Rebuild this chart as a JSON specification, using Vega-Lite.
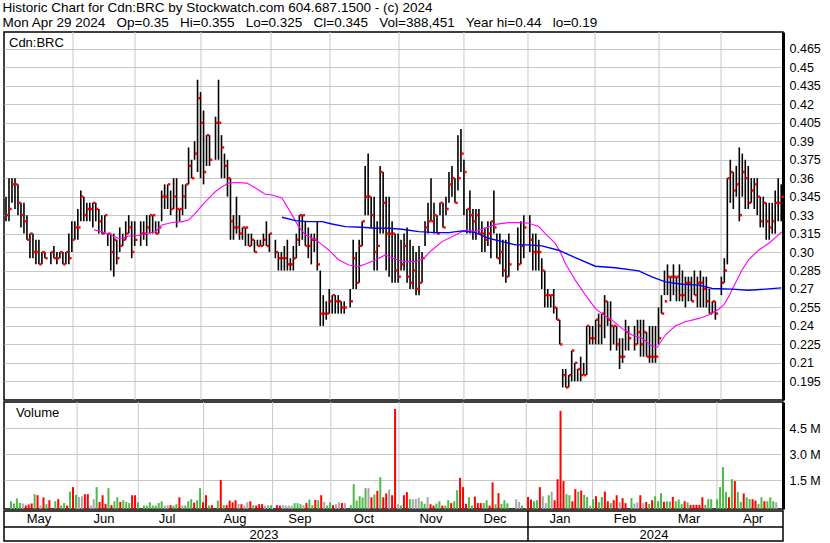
{
"$schema": "https://vega.github.io/schema/vega-lite/v6.json",
"background": "white",
"padding": {"left": 2, "top": 0, "right": 0, "bottom": 0},
"spacing": 2,
"bounds": "flush",
"title": {"text": ["Historic Chart for Cdn:BRC by Stockwatch.com 604.687.1500 - (c) 2024", "Mon Apr 29 2024 \u00a0 Op=0.35 \u00a0 Hi=0.355 \u00a0 Lo=0.325 \u00a0 Cl=0.345 \u00a0 Vol=388,451 \u00a0 Year hi=0.44 \u00a0 lo=0.19"], "anchor": "start", "font": "Liberation Sans", "fontSize": 13.5, "fontWeight": "normal", "lineHeight": 15.5, "offset": 1, "color": "black"},
"datasets": {
"bars": [
{"i":0,"h":0.345,"l":0.325,"c":0.33},{"i":1,"h":0.36,"l":0.325,"c":0.335},{"i":2,"h":0.36,"l":0.34,"c":0.355},{"i":3,"h":0.36,"l":0.335,"c":0.355},{"i":4,"h":0.355,"l":0.33,"c":0.34},{"i":5,"h":0.34,"l":0.32,"c":0.33},{"i":6,"h":0.34,"l":0.315,"c":0.325},{"i":7,"h":0.33,"l":0.31,"c":0.31},{"i":8,"h":0.315,"l":0.295,"c":0.315},{"i":9,"h":0.315,"l":0.295,"c":0.3},{"i":10,"h":0.31,"l":0.29,"c":0.3},{"i":11,"h":0.31,"l":0.29,"c":0.29},{"i":12,"h":0.3,"l":0.29,"c":0.3},{"i":13,"h":0.3,"l":0.295,"c":0.295},
{"i":15,"h":0.3,"l":0.29,"c":0.3},{"i":16,"h":0.305,"l":0.295,"c":0.295},{"i":17,"h":0.3,"l":0.29,"c":0.295},{"i":18,"h":0.3,"l":0.295,"c":0.3},{"i":19,"h":0.3,"l":0.29,"c":0.29},{"i":20,"h":0.3,"l":0.29,"c":0.3},{"i":21,"h":0.315,"l":0.29,"c":0.295},{"i":22,"h":0.325,"l":0.3,"c":0.31},{"i":23,"h":0.325,"l":0.31,"c":0.32},{"i":24,"h":0.335,"l":0.31,"c":0.32},{"i":25,"h":0.35,"l":0.325,"c":0.345},{"i":26,"h":0.345,"l":0.325,"c":0.33},{"i":27,"h":0.34,"l":0.325,"c":0.335},{"i":28,"h":0.34,"l":0.325,"c":0.335},{"i":29,"h":0.34,"l":0.32,"c":0.34},{"i":30,"h":0.34,"l":0.325,"c":0.335},{"i":31,"h":0.335,"l":0.315,"c":0.325},{"i":32,"h":0.33,"l":0.315,"c":0.315},{"i":33,"h":0.33,"l":0.315,"c":0.33},{"i":34,"h":0.315,"l":0.305,"c":0.315},{"i":35,"h":0.315,"l":0.285,"c":0.3},{"i":36,"h":0.315,"l":0.28,"c":0.31},{"i":37,"h":0.31,"l":0.29,"c":0.295},{"i":38,"h":0.32,"l":0.3,"c":0.305},{"i":39,"h":0.315,"l":0.305,"c":0.31},{"i":40,"h":0.325,"l":0.31,"c":0.315},{"i":41,"h":0.33,"l":0.315,"c":0.32},{"i":42,"h":0.325,"l":0.295,"c":0.3},{"i":43,"h":0.325,"l":0.305,"c":0.31},
{"i":45,"h":0.325,"l":0.305,"c":0.315},{"i":46,"h":0.325,"l":0.31,"c":0.315},{"i":47,"h":0.33,"l":0.305,"c":0.32},{"i":48,"h":0.33,"l":0.315,"c":0.33},{"i":49,"h":0.33,"l":0.315,"c":0.33},{"i":50,"h":0.325,"l":0.315,"c":0.315},{"i":51,"h":0.325,"l":0.315,"c":0.32},{"i":52,"h":0.35,"l":0.325,"c":0.345},{"i":53,"h":0.355,"l":0.335,"c":0.345},{"i":54,"h":0.355,"l":0.335,"c":0.355},{"i":55,"h":0.35,"l":0.33,"c":0.335},{"i":56,"h":0.36,"l":0.335,"c":0.345},{"i":57,"h":0.36,"l":0.32,"c":0.335},{"i":58,"h":0.335,"l":0.325,"c":0.335},{"i":59,"h":0.355,"l":0.33,"c":0.345},{"i":60,"h":0.355,"l":0.335,"c":0.355},{"i":61,"h":0.385,"l":0.355,"c":0.37},{"i":62,"h":0.375,"l":0.36,"c":0.36},{"i":63,"h":0.39,"l":0.375,"c":0.38},{"i":64,"h":0.44,"l":0.365,"c":0.425},{"i":65,"h":0.43,"l":0.36,"c":0.405},{"i":66,"h":0.415,"l":0.355,"c":0.365},{"i":67,"h":0.395,"l":0.37,"c":0.395},{"i":68,"h":0.395,"l":0.37,"c":0.375},
{"i":70,"h":0.41,"l":0.375,"c":0.405},{"i":71,"h":0.44,"l":0.375,"c":0.405},{"i":72,"h":0.395,"l":0.36,"c":0.385},{"i":73,"h":0.38,"l":0.36,"c":0.37},{"i":74,"h":0.375,"l":0.345,"c":0.36},{"i":75,"h":0.36,"l":0.31,"c":0.325},{"i":76,"h":0.33,"l":0.31,"c":0.32},{"i":77,"h":0.345,"l":0.315,"c":0.32},{"i":78,"h":0.33,"l":0.31,"c":0.315},{"i":79,"h":0.32,"l":0.31,"c":0.32},{"i":80,"h":0.32,"l":0.305,"c":0.32},{"i":81,"h":0.315,"l":0.305,"c":0.305},{"i":82,"h":0.315,"l":0.305,"c":0.31},{"i":83,"h":0.31,"l":0.3,"c":0.3},{"i":84,"h":0.31,"l":0.305,"c":0.305},{"i":85,"h":0.31,"l":0.305,"c":0.305},{"i":86,"h":0.315,"l":0.305,"c":0.31},{"i":87,"h":0.325,"l":0.305,"c":0.305},{"i":88,"h":0.315,"l":0.3,"c":0.315},
{"i":90,"h":0.31,"l":0.295,"c":0.3},{"i":91,"h":0.3,"l":0.285,"c":0.295},{"i":92,"h":0.3,"l":0.285,"c":0.295},{"i":93,"h":0.305,"l":0.285,"c":0.295},{"i":94,"h":0.31,"l":0.285,"c":0.29},{"i":95,"h":0.295,"l":0.285,"c":0.29},{"i":96,"h":0.305,"l":0.285,"c":0.295},{"i":97,"h":0.315,"l":0.295,"c":0.31},{"i":98,"h":0.33,"l":0.305,"c":0.33},{"i":99,"h":0.33,"l":0.31,"c":0.33},{"i":100,"h":0.325,"l":0.305,"c":0.305},{"i":101,"h":0.32,"l":0.295,"c":0.305},{"i":102,"h":0.315,"l":0.29,"c":0.31},{"i":103,"h":0.315,"l":0.3,"c":0.31},{"i":104,"h":0.325,"l":0.285,"c":0.29},{"i":105,"h":0.285,"l":0.24,"c":0.25},{"i":106,"h":0.265,"l":0.24,"c":0.25},{"i":107,"h":0.26,"l":0.245,"c":0.25},{"i":108,"h":0.27,"l":0.25,"c":0.26},{"i":109,"h":0.265,"l":0.25,"c":0.265},{"i":110,"h":0.265,"l":0.25,"c":0.26},{"i":111,"h":0.265,"l":0.25,"c":0.26},{"i":112,"h":0.26,"l":0.25,"c":0.255},{"i":113,"h":0.26,"l":0.25,"c":0.255},
{"i":115,"h":0.27,"l":0.255,"c":0.26},{"i":116,"h":0.31,"l":0.27,"c":0.295},{"i":117,"h":0.3,"l":0.27,"c":0.275},{"i":118,"h":0.31,"l":0.275,"c":0.305},{"i":119,"h":0.325,"l":0.305,"c":0.325},{"i":120,"h":0.37,"l":0.33,"c":0.345},{"i":121,"h":0.38,"l":0.33,"c":0.345},{"i":122,"h":0.345,"l":0.32,"c":0.33},{"i":123,"h":0.345,"l":0.285,"c":0.3},{"i":124,"h":0.325,"l":0.285,"c":0.305},{"i":125,"h":0.37,"l":0.315,"c":0.365},{"i":126,"h":0.365,"l":0.315,"c":0.34},{"i":127,"h":0.345,"l":0.285,"c":0.315},{"i":128,"h":0.345,"l":0.28,"c":0.315},{"i":129,"h":0.325,"l":0.275,"c":0.315},{"i":130,"h":0.315,"l":0.275,"c":0.285},{"i":131,"h":0.315,"l":0.275,"c":0.28},{"i":132,"h":0.31,"l":0.285,"c":0.29},{"i":133,"h":0.315,"l":0.285,"c":0.305},{"i":134,"h":0.32,"l":0.275,"c":0.28},{"i":135,"h":0.31,"l":0.27,"c":0.275},{"i":136,"h":0.305,"l":0.27,"c":0.285},{"i":137,"h":0.3,"l":0.265,"c":0.27},{"i":138,"h":0.305,"l":0.265,"c":0.275},{"i":139,"h":0.3,"l":0.275,"c":0.295},{"i":140,"h":0.325,"l":0.305,"c":0.32},{"i":141,"h":0.34,"l":0.315,"c":0.325},{"i":142,"h":0.36,"l":0.325,"c":0.325},{"i":143,"h":0.34,"l":0.315,"c":0.33},{"i":144,"h":0.33,"l":0.315,"c":0.315},{"i":145,"h":0.34,"l":0.33,"c":0.34},{"i":146,"h":0.34,"l":0.32,"c":0.32},{"i":147,"h":0.345,"l":0.33,"c":0.335},{"i":148,"h":0.365,"l":0.34,"c":0.355},{"i":149,"h":0.37,"l":0.345,"c":0.36},{"i":150,"h":0.36,"l":0.34,"c":0.34},{"i":151,"h":0.395,"l":0.35,"c":0.36},{"i":152,"h":0.4,"l":0.365,"c":0.38},
{"i":153,"h":0.375,"l":0.33,"c":0.365},{"i":154,"h":0.335,"l":0.315,"c":0.335},{"i":155,"h":0.35,"l":0.315,"c":0.33},{"i":156,"h":0.335,"l":0.31,"c":0.325},{"i":157,"h":0.335,"l":0.31,"c":0.33},{"i":158,"h":0.335,"l":0.315,"c":0.315},{"i":159,"h":0.325,"l":0.3,"c":0.315},{"i":160,"h":0.32,"l":0.3,"c":0.31},{"i":161,"h":0.325,"l":0.305,"c":0.315},{"i":162,"h":0.325,"l":0.295,"c":0.325},{"i":163,"h":0.35,"l":0.315,"c":0.32},{"i":164,"h":0.315,"l":0.295,"c":0.295},{"i":165,"h":0.315,"l":0.29,"c":0.3},{"i":166,"h":0.31,"l":0.28,"c":0.285},{"i":167,"h":0.31,"l":0.275,"c":0.28},{"i":168,"h":0.315,"l":0.28,"c":0.29},
{"i":171,"h":0.32,"l":0.285,"c":0.29},{"i":172,"h":0.325,"l":0.29,"c":0.305},{"i":173,"h":0.33,"l":0.295,"c":0.32},
{"i":175,"h":0.33,"l":0.3,"c":0.31},{"i":176,"h":0.315,"l":0.285,"c":0.3},{"i":177,"h":0.315,"l":0.285,"c":0.3},{"i":178,"h":0.31,"l":0.285,"c":0.3},{"i":179,"h":0.295,"l":0.27,"c":0.285},{"i":180,"h":0.285,"l":0.255,"c":0.265},{"i":181,"h":0.27,"l":0.255,"c":0.265},{"i":182,"h":0.265,"l":0.255,"c":0.265},{"i":183,"h":0.27,"l":0.25,"c":0.255},{"i":184,"h":0.255,"l":0.245,"c":0.245},{"i":185,"h":0.245,"l":0.225,"c":0.225},{"i":186,"h":0.205,"l":0.19,"c":0.2},{"i":187,"h":0.205,"l":0.19,"c":0.19},{"i":188,"h":0.2,"l":0.19,"c":0.2},{"i":189,"h":0.22,"l":0.195,"c":0.22},{"i":190,"h":0.21,"l":0.195,"c":0.21},{"i":191,"h":0.205,"l":0.195,"c":0.205},{"i":192,"h":0.215,"l":0.195,"c":0.2},{"i":193,"h":0.21,"l":0.2,"c":0.2},{"i":194,"h":0.24,"l":0.2,"c":0.24},{"i":195,"h":0.24,"l":0.225,"c":0.23},{"i":196,"h":0.24,"l":0.225,"c":0.23},
{"i":197,"h":0.245,"l":0.225,"c":0.245},{"i":198,"h":0.25,"l":0.225,"c":0.24},{"i":199,"h":0.25,"l":0.225,"c":0.25},{"i":200,"h":0.265,"l":0.23,"c":0.26},{"i":201,"h":0.26,"l":0.24,"c":0.245},{"i":202,"h":0.26,"l":0.22,"c":0.24},{"i":203,"h":0.24,"l":0.225,"c":0.24},{"i":204,"h":0.24,"l":0.22,"c":0.225},{"i":205,"h":0.23,"l":0.205,"c":0.215},{"i":206,"h":0.23,"l":0.21,"c":0.215},{"i":207,"h":0.245,"l":0.22,"c":0.235},{"i":208,"h":0.24,"l":0.22,"c":0.23},
{"i":210,"h":0.24,"l":0.22,"c":0.225},{"i":211,"h":0.245,"l":0.225,"c":0.235},{"i":212,"h":0.245,"l":0.215,"c":0.225},{"i":213,"h":0.245,"l":0.215,"c":0.235},{"i":214,"h":0.235,"l":0.215,"c":0.215},{"i":215,"h":0.24,"l":0.21,"c":0.215},{"i":216,"h":0.24,"l":0.21,"c":0.215},{"i":217,"h":0.24,"l":0.21,"c":0.215},
{"i":218,"h":0.255,"l":0.225,"c":0.23},{"i":219,"h":0.265,"l":0.25,"c":0.25},{"i":220,"h":0.285,"l":0.265,"c":0.26},{"i":221,"h":0.29,"l":0.265,"c":0.28},{"i":222,"h":0.28,"l":0.26,"c":0.28},{"i":223,"h":0.29,"l":0.265,"c":0.28},{"i":224,"h":0.28,"l":0.26,"c":0.28},{"i":225,"h":0.29,"l":0.26,"c":0.265},{"i":226,"h":0.285,"l":0.26,"c":0.265},{"i":227,"h":0.28,"l":0.255,"c":0.275},{"i":228,"h":0.28,"l":0.26,"c":0.275},{"i":229,"h":0.28,"l":0.26,"c":0.26},{"i":230,"h":0.285,"l":0.265,"c":0.265},{"i":231,"h":0.28,"l":0.255,"c":0.275},{"i":232,"h":0.285,"l":0.255,"c":0.275},{"i":233,"h":0.28,"l":0.255,"c":0.27},{"i":234,"h":0.28,"l":0.255,"c":0.26},{"i":235,"h":0.27,"l":0.25,"c":0.25},{"i":236,"h":0.26,"l":0.25,"c":0.26},{"i":237,"h":0.26,"l":0.245,"c":0.25},
{"i":239,"h":0.28,"l":0.265,"c":0.275},{"i":240,"h":0.295,"l":0.275,"c":0.285},{"i":241,"h":0.36,"l":0.29,"c":0.36},{"i":242,"h":0.375,"l":0.34,"c":0.365},{"i":243,"h":0.365,"l":0.335,"c":0.35},{"i":244,"h":0.37,"l":0.345,"c":0.355},{"i":245,"h":0.385,"l":0.325,"c":0.33},{"i":246,"h":0.38,"l":0.345,"c":0.365},{"i":247,"h":0.375,"l":0.335,"c":0.36},{"i":248,"h":0.37,"l":0.335,"c":0.34},{"i":249,"h":0.36,"l":0.34,"c":0.35},{"i":250,"h":0.36,"l":0.335,"c":0.355},{"i":251,"h":0.36,"l":0.33,"c":0.345},{"i":252,"h":0.345,"l":0.32,"c":0.325},{"i":253,"h":0.345,"l":0.32,"c":0.34},{"i":254,"h":0.34,"l":0.31,"c":0.325},{"i":255,"h":0.34,"l":0.31,"c":0.32},{"i":256,"h":0.34,"l":0.315,"c":0.325},{"i":257,"h":0.35,"l":0.315,"c":0.34},{"i":258,"h":0.36,"l":0.325,"c":0.34},{"i":259,"h":0.355,"l":0.325,"c":0.345}
],
"vol": [
{"i":0,"v":0.27,"d":"u"},{"i":1,"v":0.14,"d":"u"},{"i":2,"v":0.43,"d":"u"},{"i":3,"v":0.17,"d":"u"},{"i":4,"v":0.14,"d":"f"},{"i":5,"v":0.02,"d":"d"},{"i":6,"v":0.08,"d":"d"},{"i":7,"v":0.14,"d":"d"},{"i":8,"v":0.68,"d":"u"},{"i":9,"v":0.62,"d":"d"},{"i":10,"v":0.02,"d":"f"},{"i":11,"v":0.5,"d":"d"},{"i":12,"v":0.1,"d":"u"},{"i":13,"v":0.33,"d":"d"},
{"i":15,"v":0.27,"d":"u"},{"i":16,"v":0.39,"d":"d"},{"i":17,"v":0.02,"d":"u"},{"i":18,"v":0.16,"d":"u"},{"i":19,"v":0.02,"d":"d"},{"i":20,"v":0.83,"d":"u"},{"i":21,"v":1.09,"d":"d"},{"i":22,"v":0.64,"d":"u"},{"i":23,"v":0.52,"d":"f"},{"i":24,"v":0.56,"d":"f"},{"i":25,"v":0.68,"d":"d"},{"i":26,"v":0.68,"d":"d"},{"i":27,"v":0.02,"d":"f"},{"i":28,"v":0.39,"d":"f"},{"i":29,"v":1.09,"d":"u"},{"i":30,"v":0.23,"d":"d"},{"i":31,"v":0.62,"d":"d"},{"i":32,"v":0.12,"d":"d"},{"i":33,"v":1.03,"d":"u"},{"i":34,"v":0.04,"d":"d"},{"i":35,"v":0.27,"d":"u"},{"i":36,"v":0.5,"d":"u"},{"i":37,"v":0.23,"d":"d"},{"i":38,"v":0.33,"d":"u"},{"i":39,"v":0.23,"d":"u"},{"i":40,"v":0.17,"d":"u"},{"i":41,"v":0.62,"d":"d"},{"i":42,"v":0.62,"d":"d"},{"i":43,"v":0.21,"d":"u"},
{"i":45,"v":0.02,"d":"u"},{"i":46,"v":0.02,"d":"u"},{"i":47,"v":0.21,"d":"u"},{"i":48,"v":0.02,"d":"u"},{"i":49,"v":0.02,"d":"u"},{"i":50,"v":0.17,"d":"u"},{"i":51,"v":0.27,"d":"u"},{"i":52,"v":0.02,"d":"f"},{"i":53,"v":0.02,"d":"f"},{"i":54,"v":0.04,"d":"d"},{"i":55,"v":0.02,"d":"u"},{"i":56,"v":0.1,"d":"u"},{"i":57,"v":0.5,"d":"d"},{"i":58,"v":0.02,"d":"f"},{"i":59,"v":0.02,"d":"u"},{"i":60,"v":0.27,"d":"u"},{"i":61,"v":0.39,"d":"u"},{"i":62,"v":0.19,"d":"d"},{"i":63,"v":0.33,"d":"u"},{"i":64,"v":1.03,"d":"u"},{"i":65,"v":0.21,"d":"d"},{"i":66,"v":0.62,"d":"d"},{"i":67,"v":0.02,"d":"u"},{"i":68,"v":0.04,"d":"d"},
{"i":70,"v":0.31,"d":"u"},{"i":71,"v":1.5,"d":"d"},{"i":72,"v":0.04,"d":"u"},{"i":73,"v":0.04,"d":"d"},{"i":74,"v":0.31,"d":"d"},{"i":75,"v":0.21,"d":"d"},{"i":76,"v":0.33,"d":"d"},{"i":77,"v":0.12,"d":"f"},{"i":78,"v":0.1,"d":"d"},{"i":79,"v":0.02,"d":"f"},{"i":80,"v":0.21,"d":"f"},{"i":81,"v":0.27,"d":"d"},{"i":82,"v":0.04,"d":"u"},{"i":83,"v":0.02,"d":"d"},{"i":84,"v":0.1,"d":"d"},{"i":85,"v":0.1,"d":"d"},{"i":86,"v":0.02,"d":"f"},{"i":87,"v":0.04,"d":"f"},{"i":88,"v":0.04,"d":"u"},
{"i":90,"v":0.04,"d":"d"},{"i":91,"v":0.02,"d":"d"},{"i":92,"v":0.04,"d":"f"},{"i":93,"v":0.02,"d":"f"},{"i":94,"v":0.02,"d":"f"},{"i":95,"v":0.02,"d":"f"},{"i":96,"v":0.16,"d":"u"},{"i":97,"v":0.16,"d":"u"},{"i":98,"v":0.1,"d":"u"},{"i":99,"v":0.04,"d":"f"},{"i":100,"v":0.17,"d":"d"},{"i":101,"v":0.37,"d":"u"},{"i":102,"v":0.04,"d":"u"},{"i":103,"v":0.35,"d":"d"},{"i":104,"v":0.33,"d":"u"},{"i":105,"v":0.62,"d":"d"},{"i":106,"v":0.23,"d":"f"},{"i":107,"v":0.02,"d":"u"},{"i":108,"v":0.21,"d":"u"},{"i":109,"v":0.04,"d":"d"},{"i":110,"v":0.1,"d":"f"},{"i":111,"v":0.21,"d":"f"},{"i":112,"v":0.17,"d":"d"},{"i":113,"v":0.16,"d":"f"},
{"i":115,"v":0.04,"d":"u"},{"i":116,"v":1.26,"d":"u"},{"i":117,"v":0.31,"d":"u"},{"i":118,"v":0.56,"d":"u"},{"i":119,"v":0.49,"d":"u"},{"i":120,"v":1.03,"d":"u"},{"i":121,"v":1.03,"d":"f"},{"i":122,"v":0.5,"d":"d"},{"i":123,"v":0.66,"d":"u"},{"i":124,"v":0.87,"d":"d"},{"i":125,"v":1.67,"d":"u"},{"i":126,"v":0.5,"d":"d"},{"i":127,"v":0.72,"d":"d"},{"i":128,"v":0.95,"d":"f"},{"i":129,"v":0.62,"d":"d"},{"i":130,"v":5.63,"d":"d"},{"i":131,"v":0.1,"d":"f"},{"i":132,"v":0.02,"d":"u"},{"i":133,"v":0.62,"d":"d"},{"i":134,"v":0.8,"d":"d"},{"i":135,"v":0.39,"d":"u"},{"i":136,"v":0.39,"d":"f"},{"i":137,"v":0.39,"d":"f"},{"i":138,"v":0.47,"d":"f"},{"i":139,"v":0.27,"d":"u"},{"i":140,"v":0.12,"d":"u"},{"i":141,"v":0.5,"d":"f"},{"i":142,"v":0.1,"d":"d"},{"i":143,"v":0.02,"d":"d"},{"i":144,"v":0.14,"d":"u"},{"i":145,"v":0.27,"d":"u"},{"i":146,"v":0.02,"d":"d"},{"i":147,"v":0.02,"d":"u"},{"i":148,"v":0.33,"d":"u"},{"i":149,"v":0.16,"d":"d"},{"i":150,"v":0.27,"d":"u"},{"i":151,"v":0.91,"d":"u"},{"i":152,"v":1.63,"d":"d"},{"i":153,"v":1.09,"d":"d"},{"i":154,"v":0.12,"d":"d"},{"i":155,"v":0.5,"d":"u"},{"i":156,"v":0.02,"d":"u"},{"i":157,"v":0.54,"d":"d"},{"i":158,"v":0.17,"d":"d"},{"i":159,"v":0.16,"d":"d"},{"i":160,"v":0.17,"d":"u"},{"i":161,"v":0.33,"d":"u"},{"i":162,"v":0.02,"d":"d"},{"i":163,"v":1.36,"d":"d"},{"i":164,"v":0.1,"d":"u"},{"i":165,"v":0.74,"d":"d"},{"i":166,"v":0.12,"d":"u"},{"i":167,"v":0.33,"d":"u"},{"i":168,"v":0.15,"d":"u"},
{"i":171,"v":0.39,"d":"f"},{"i":172,"v":0.23,"d":"f"},{"i":173,"v":0.02,"d":"u"},
{"i":175,"v":0.52,"d":"d"},{"i":176,"v":0.37,"d":"d"},{"i":177,"v":0.27,"d":"u"},{"i":178,"v":0.33,"d":"u"},{"i":179,"v":1.09,"d":"d"},{"i":180,"v":0.56,"d":"f"},{"i":181,"v":0.16,"d":"f"},{"i":182,"v":0.62,"d":"u"},{"i":183,"v":0.83,"d":"f"},{"i":184,"v":0.33,"d":"d"},{"i":185,"v":1.55,"d":"d"},{"i":186,"v":5.51,"d":"d"},{"i":187,"v":1.44,"d":"d"},{"i":188,"v":0.68,"d":"u"},{"i":189,"v":0.62,"d":"u"},{"i":190,"v":0.27,"d":"d"},{"i":191,"v":0.97,"d":"d"},{"i":192,"v":0.83,"d":"u"},{"i":193,"v":0.89,"d":"d"},{"i":194,"v":0.64,"d":"u"},{"i":195,"v":0.52,"d":"u"},{"i":196,"v":0.02,"d":"f"},{"i":197,"v":0.39,"d":"u"},{"i":198,"v":0.56,"d":"d"},{"i":199,"v":0.21,"d":"u"},{"i":200,"v":0.52,"d":"u"},{"i":201,"v":0.83,"d":"d"},{"i":202,"v":0.27,"d":"d"},{"i":203,"v":0.16,"d":"u"},{"i":204,"v":0.33,"d":"d"},{"i":205,"v":0.62,"d":"d"},{"i":206,"v":0.21,"d":"f"},{"i":207,"v":0.45,"d":"d"},{"i":208,"v":0.16,"d":"d"},
{"i":210,"v":0.45,"d":"u"},{"i":211,"v":0.14,"d":"f"},{"i":212,"v":0.21,"d":"f"},{"i":213,"v":0.62,"d":"d"},{"i":214,"v":0.16,"d":"f"},{"i":215,"v":0.23,"d":"d"},{"i":216,"v":0.12,"d":"u"},{"i":217,"v":0.33,"d":"d"},{"i":218,"v":0.56,"d":"u"},{"i":219,"v":0.27,"d":"u"},{"i":220,"v":0.74,"d":"u"},{"i":221,"v":0.23,"d":"d"},{"i":222,"v":0.27,"d":"u"},{"i":223,"v":0.25,"d":"u"},{"i":224,"v":0.52,"d":"d"},{"i":225,"v":0.27,"d":"u"},{"i":226,"v":0.37,"d":"u"},{"i":227,"v":0.1,"d":"u"},{"i":228,"v":0.27,"d":"d"},{"i":229,"v":0.21,"d":"u"},{"i":230,"v":0.06,"d":"d"},{"i":231,"v":0.06,"d":"d"},{"i":232,"v":0.06,"d":"d"},{"i":233,"v":0.06,"d":"d"},{"i":234,"v":0.5,"d":"d"},{"i":235,"v":0.06,"d":"u"},{"i":236,"v":0.39,"d":"u"},{"i":237,"v":0.39,"d":"u"},
{"i":239,"v":0.39,"d":"u"},{"i":240,"v":1.09,"d":"u"},{"i":241,"v":2.25,"d":"u"},{"i":242,"v":0.8,"d":"u"},{"i":243,"v":0.5,"d":"d"},{"i":244,"v":1.55,"d":"u"},{"i":245,"v":1.44,"d":"d"},{"i":246,"v":0.8,"d":"u"},{"i":247,"v":0.23,"d":"u"},{"i":248,"v":0.72,"d":"d"},{"i":249,"v":0.5,"d":"u"},{"i":250,"v":0.39,"d":"u"},{"i":251,"v":0.39,"d":"d"},{"i":252,"v":0.31,"d":"d"},{"i":253,"v":0.12,"d":"u"},{"i":254,"v":0.5,"d":"u"},{"i":255,"v":0.27,"d":"d"},{"i":256,"v":0.27,"d":"u"},{"i":257,"v":0.5,"d":"u"},{"i":258,"v":0.27,"d":"u"},{"i":259,"v":0.21,"d":"f"}
],
"ma1": [
{"i":29.4,"m":0.318},{"i":32.1,"m":0.3165},{"i":35.4,"m":0.3135},{"i":37.7,"m":0.311},{"i":39.3,"m":0.3115},{"i":41,"m":0.313},{"i":44.3,"m":0.3135},{"i":45.4,"m":0.3145},{"i":49.9,"m":0.3165},{"i":52.1,"m":0.322},{"i":55.5,"m":0.324},{"i":58.8,"m":0.3247},{"i":61,"m":0.326},{"i":63.2,"m":0.3315},{"i":65.5,"m":0.338},{"i":67.7,"m":0.3437},{"i":69.9,"m":0.349},{"i":72.2,"m":0.353},{"i":74.4,"m":0.356},{"i":76.6,"m":0.3565},{"i":80.5,"m":0.356},{"i":83.3,"m":0.352},{"i":86.6,"m":0.347},{"i":88.9,"m":0.3464},{"i":92.2,"m":0.344},{"i":95.6,"m":0.33},{"i":97.8,"m":0.3207},{"i":100,"m":0.314},{"i":103.4,"m":0.31},{"i":105.6,"m":0.306},{"i":107.8,"m":0.3017},{"i":111.2,"m":0.2936},{"i":114.5,"m":0.2895},{"i":117.8,"m":0.2882},{"i":120.1,"m":0.2903},{"i":123.4,"m":0.2936},{"i":126.7,"m":0.2977},{"i":130.1,"m":0.2941},{"i":133.4,"m":0.2922},{"i":136.8,"m":0.2922},{"i":139.6,"m":0.295},{"i":142.3,"m":0.3017},{"i":145.7,"m":0.3085},{"i":149,"m":0.3125},{"i":152.4,"m":0.3166},{"i":154,"m":0.318},{"i":156.8,"m":0.3166},{"i":160.1,"m":0.3193},{"i":163.5,"m":0.3225},{"i":167.9,"m":0.3239},{"i":171.3,"m":0.3239},{"i":174.6,"m":0.3234},{"i":178,"m":0.3207},{"i":180.2,"m":0.315},{"i":183.5,"m":0.307},{"i":185.2,"m":0.3},{"i":186.9,"m":0.2907},{"i":190.2,"m":0.2772},{"i":193.6,"m":0.265},{"i":196.9,"m":0.2542},{"i":199.7,"m":0.2488},{"i":202.5,"m":0.2447},{"i":205.8,"m":0.238},{"i":209.2,"m":0.2326},{"i":212.5,"m":0.2299},{"i":215.8,"m":0.2236},{"i":217.5,"m":0.2225},{"i":220.3,"m":0.2326},{"i":223.6,"m":0.2399},{"i":227,"m":0.2434},{"i":231.5,"m":0.2461},{"i":234.8,"m":0.2488},{"i":238.1,"m":0.2535},{"i":239.8,"m":0.257},{"i":241.5,"m":0.264},{"i":243.1,"m":0.272},{"i":245.9,"m":0.2855},{"i":248.1,"m":0.2936},{"i":251.5,"m":0.3017},{"i":254.8,"m":0.307},{"i":259.3,"m":0.3166}
],
"ma2": [
{"i":92.2,"m":0.3283},{"i":96.7,"m":0.3255},{"i":101.1,"m":0.3247},{"i":105.6,"m":0.3247},{"i":108.9,"m":0.3228},{"i":113.4,"m":0.3207},{"i":118.9,"m":0.3201},{"i":123.4,"m":0.3193},{"i":127.9,"m":0.3193},{"i":132.3,"m":0.3185},{"i":137.9,"m":0.3166},{"i":143.4,"m":0.3158},{"i":147.9,"m":0.3158},{"i":152.4,"m":0.3172},{"i":156.8,"m":0.3158},{"i":161.3,"m":0.3112},{"i":165.7,"m":0.3085},{"i":170.2,"m":0.3058},{"i":174.6,"m":0.3058},{"i":179,"m":0.305},{"i":184.6,"m":0.3015},{"i":190.2,"m":0.2955},{"i":196.9,"m":0.2885},{"i":203.6,"m":0.2872},{"i":211.4,"m":0.2847},{"i":215.8,"m":0.2799},{"i":220.3,"m":0.2758},{"i":225.9,"m":0.2739},{"i":231.5,"m":0.2731},{"i":235.9,"m":0.2704},{"i":242.6,"m":0.2699},{"i":248.1,"m":0.269},{"i":253.7,"m":0.2699},{"i":259,"m":0.2709}
],
"months": [{"i":22.39},{"i":43.1},{"i":65.15},{"i":88.54},{"i":108.25},{"i":131.3},{"i":153.0},{"i":174.4},{"i":196.8},{"i":218.2},{"i":238.9}],
"labels": [
{"i":11.03,"r":1.47,"t":"May"},{"i":32.74,"r":1.47,"t":"Jun"},{"i":53.8,"r":1.47,"t":"Jul"},{"i":76.5,"r":1.47,"t":"Aug"},{"i":98.2,"r":1.47,"t":"Sep"},{"i":119.6,"r":1.47,"t":"Oct"},{"i":142.0,"r":1.47,"t":"Nov"},{"i":163.4,"r":1.47,"t":"Dec"},{"i":185.1,"r":1.47,"t":"Jan"},{"i":206.8,"r":1.47,"t":"Feb"},{"i":228.2,"r":1.47,"t":"Mar"},{"i":249.6,"r":1.47,"t":"Apr"},
{"i":86.2,"r":0.43,"t":"2023"},{"i":216.5,"r":0.43,"t":"2024"}
]
},
"vconcat": [
{
"width": 779, "height": 368,
"encoding": {"x": {"field": "i", "type": "quantitative", "scale": {"domain": [-0.668, 259.6], "nice": false, "zero": false}, "axis": null}},
"layer": [
{"data": {"name": "months"}, "mark": {"type": "rule", "color": "#c8c8c8", "strokeWidth": 1}, "encoding": {}},
{"data": {"name": "bars"}, "mark": {"type": "rule", "color": "black", "strokeWidth": 1.6},
 "encoding": {"y": {"field": "l", "type": "quantitative", "scale": {"domain": [0.1798, 0.4788], "nice": false, "zero": false},
   "axis": {"orient": "right", "title": null, "values": [0.195,0.21,0.225,0.24,0.255,0.27,0.285,0.3,0.315,0.33,0.345,0.36,0.375,0.39,0.405,0.42,0.435,0.45,0.465], "tickCount": 40, "labelExpr": "format(datum.value, round(datum.value * 1000) % 10 == 0 ? '.2f' : '.3f')", "labelOverlap": false, "labelSeparation": 0, "grid": true, "gridColor": "#c8c8c8", "ticks": false, "domainColor": "black", "domainWidth": 3, "labelPadding": 6, "labelFont": "Liberation Sans", "labelFontSize": 12.5, "labelColor": "black"}},
  "y2": {"field": "h"}}},
{"data": {"name": "bars"}, "mark": {"type": "point", "shape": "square", "filled": true, "color": "#ff0000", "size": 6, "opacity": 1, "xOffset": 1.5},
 "encoding": {"y": {"field": "c", "type": "quantitative"}}},
{"data": {"name": "ma1"}, "mark": {"type": "line", "color": "#ff00ff", "strokeWidth": 1.1}, "encoding": {"y": {"field": "m", "type": "quantitative"}}},
{"data": {"name": "ma2"}, "mark": {"type": "line", "color": "#0000ff", "strokeWidth": 1.4}, "encoding": {"y": {"field": "m", "type": "quantitative"}}},
{"data": {"values": [{"i": 1.0, "y": 0.4699, "t": "Cdn:BRC"}]}, "mark": {"type": "text", "align": "left", "baseline": "middle", "font": "Liberation Sans", "fontSize": 13, "color": "black"},
 "encoding": {"y": {"field": "y", "type": "quantitative"}, "text": {"field": "t"}}}
]
},
{
"width": 779, "height": 107,
"encoding": {"x": {"field": "i", "type": "quantitative", "scale": {"domain": [-0.668, 259.6], "nice": false, "zero": false}, "axis": null}},
"layer": [
{"data": {"name": "months"}, "mark": {"type": "rule", "color": "#c8c8c8", "strokeWidth": 1}, "encoding": {}},
{"data": {"name": "vol"}, "mark": {"type": "bar", "width": 2},
 "encoding": {"y": {"field": "v", "type": "quantitative", "scale": {"domain": [-0.18, 6.03], "nice": false, "zero": false},
   "axis": {"orient": "right", "title": null, "values": [1.5, 3, 4.5], "tickCount": 10, "labelExpr": "format(datum.value,'.1f') + ' M'", "labelOverlap": false, "grid": true, "gridColor": "#c8c8c8", "ticks": false, "domainColor": "black", "domainWidth": 3, "labelPadding": 6, "labelFont": "Liberation Sans", "labelFontSize": 12.5, "labelColor": "black"}},
  "y2": {"datum": -0.18},
  "color": {"field": "d", "type": "nominal", "scale": {"domain": ["u", "d", "f"], "range": ["#4fb848", "#ff0000", "#a6a6a6"]}, "legend": null}}},
{"data": {"values": [{"i": 1.67, "y": 5.39, "t": "Volume"}]}, "mark": {"type": "text", "align": "left", "baseline": "middle", "font": "Liberation Sans", "fontSize": 13, "color": "black"},
 "encoding": {"y": {"field": "y", "type": "quantitative"}, "text": {"field": "t"}}}
]
},
{
"width": 779, "height": 30,
"encoding": {"x": {"field": "i", "type": "quantitative", "scale": {"domain": [-0.668, 259.6], "nice": false, "zero": false}, "axis": null}},
"layer": [
{"data": {"name": "labels"}, "mark": {"type": "text", "align": "center", "baseline": "middle", "font": "Liberation Sans", "fontSize": 13, "color": "black"},
 "encoding": {"y": {"field": "r", "type": "quantitative", "scale": {"domain": [0, 2], "nice": false, "zero": false}, "axis": null}, "text": {"field": "t"}}},
{"data": {"values": [{"y": 0.93}]}, "mark": {"type": "rule", "color": "black", "strokeWidth": 1.5}, "encoding": {"y": {"field": "y", "type": "quantitative"}, "x": null}},
{"data": {"values": [{"i": 174.4}]}, "mark": {"type": "rule", "color": "black", "strokeWidth": 1.5}, "encoding": {}}
]
}
],
"config": {"view": {"stroke": "black", "strokeWidth": 1.5}, "axis": {"labelFont": "Liberation Sans", "labelFontSize": 13, "labelOverlap": false}}
}
